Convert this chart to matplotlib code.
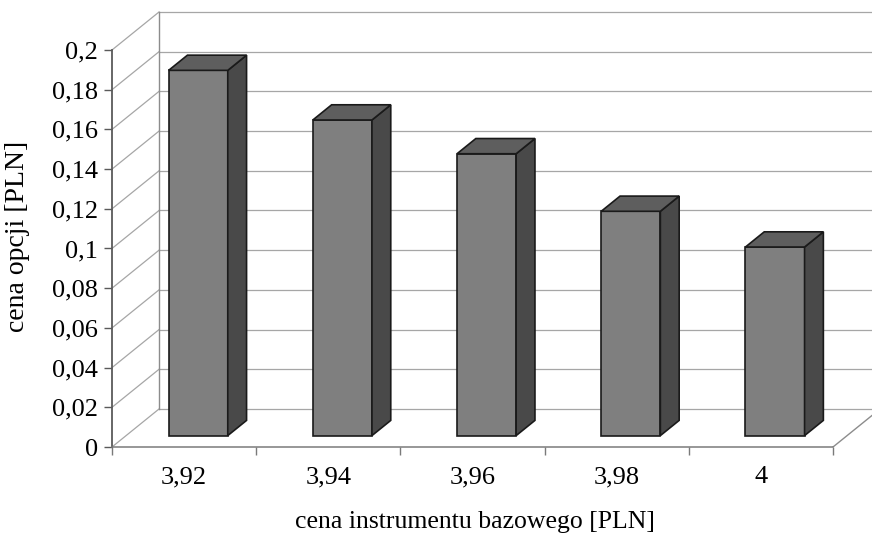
import matplotlib
matplotlib.use('Agg')
import matplotlib.pyplot as plt
from matplotlib.patches import Polygon

plt.rcParams['font.family'] = ['Liberation Serif', 'DejaVu Serif']

# data
categories = ['3,92', '3,94', '3,96', '3,98', '4']
option_price = [0.184, 0.159, 0.142, 0.113, 0.095]
y_ticks = [0, 0.02, 0.04, 0.06, 0.08, 0.1, 0.12, 0.14, 0.16, 0.18, 0.2]
y_tick_labels = ['0', '0,02', '0,04', '0,06', '0,08', '0,1', '0,12', '0,14', '0,16', '0,18', '0,2']

W, H = 872, 537
fig = plt.figure(figsize=(W / 100, H / 100), dpi=100)
fig.patch.set_facecolor('white')

# axes placed so the front plane maps to the pixel grid of the original
px_cat = 144.2     # pixels per category
px_val = 1985.0    # pixels per unit of value
ax = fig.add_axes([112 / W, 90 / H, (W - 112) / W, 447 / H])
ax.set_xlim(0, (W - 112) / px_cat)
ax.set_ylim(0, 447 / px_val)

# depth offset of the back wall (3d look)
DX = 47 / px_cat
DY = 38 / px_val
n = len(categories)
ymax = y_ticks[-1]

wall_col = '#a6a6a6'
grid_kw = dict(color=wall_col, lw=0.9, zorder=1)

# back wall grid + left wall diagonals
for v in y_ticks:
    ax.plot([DX, n + DX], [v + DY, v + DY], **grid_kw)
    ax.plot([0, DX], [v, v + DY], **grid_kw)
# left wall back edge, floor right edge
ax.plot([DX, DX], [DY, ymax + DY], color='#8c8c8c', lw=1.0, zorder=1)
ax.plot([n, n + DX], [0, DY], color='#8c8c8c', lw=1.0, zorder=1)

# bars as boxes sitting in the middle of the depth
bw = 0.41
d0, d1 = 0.30, 0.70
edge = dict(edgecolor='#1a1a1a', lw=1.2, joinstyle='miter')
for i, v in enumerate(option_price):
    x0 = i + 0.5 - bw / 2 + d0 * DX
    x1 = x0 + bw
    y0 = d0 * DY
    y1 = v + d0 * DY
    ddx = (d1 - d0) * DX
    ddy = (d1 - d0) * DY
    front = Polygon([(x0, y0), (x1, y0), (x1, y1), (x0, y1)], closed=True,
                    facecolor='#7f7f7f', zorder=3, **edge)
    side = Polygon([(x1, y0), (x1 + ddx, y0 + ddy), (x1 + ddx, y1 + ddy), (x1, y1)],
                   closed=True, facecolor='#494949', zorder=3, **edge)
    top = Polygon([(x0, y1), (x1, y1), (x1 + ddx, y1 + ddy), (x0 + ddx, y1 + ddy)],
                  closed=True, facecolor='#5e5e5e', zorder=3, **edge)
    for p in (front, side, top):
        ax.add_patch(p)

# axes
for s in ['top', 'right']:
    ax.spines[s].set_visible(False)
ax.spines['left'].set_bounds(0, ymax)
ax.spines['left'].set_color('#5a5a5a')
ax.spines['left'].set_linewidth(1.3)
ax.spines['bottom'].set_bounds(0, n)
ax.spines['bottom'].set_color('#7a7a7a')
ax.spines['bottom'].set_linewidth(1.1)
ax.patch.set_alpha(0)

ax.set_yticks(y_ticks)
ax.set_yticklabels(y_tick_labels)
ax.tick_params(axis='y', direction='out', length=6, width=1, color='#5a5a5a',
               labelsize=19, pad=4)

ax.set_xticks(range(n + 1))
ax.set_xticklabels([''] * (n + 1))
ax.set_xticks([i + 0.5 for i in range(n)], minor=True)
ax.set_xticklabels(categories, minor=True)
ax.tick_params(axis='x', which='major', direction='out', length=6, width=1, color='#7a7a7a')
ax.tick_params(axis='x', which='minor', length=0, labelsize=19, pad=14)

fig.text(18 / W, 1 - 236 / H, 'cena opcji [PLN]', rotation=90, ha='center', va='center',
         fontsize=20)
fig.text(475 / W, 1 - 522 / H, 'cena instrumentu bazowego [PLN]', ha='center', va='center',
         fontsize=18.5)

plt.savefig('out.png', dpi=100, facecolor='white')
plt.close()
